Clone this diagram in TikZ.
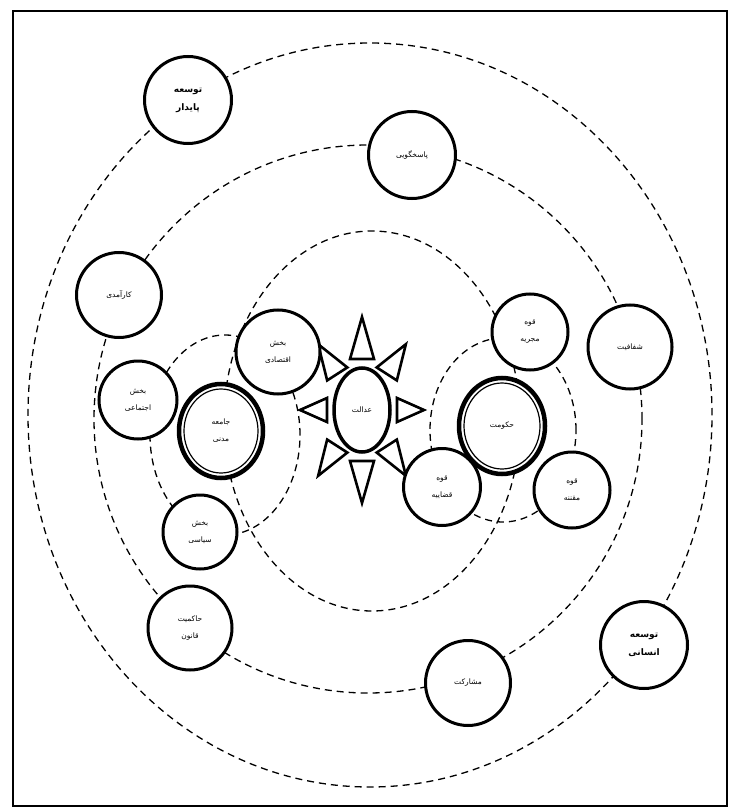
\documentclass[tikz,border=0pt]{standalone}
\usepackage{fontspec}
\newfontfamily\arabicfont[Script=Arabic]{DejaVu Sans}
\TeXXeTstate=1
\usetikzlibrary{calc,shapes.geometric}
\newcommand{\fa}[1]{{\arabicfont\beginR #1\endR}}
\begin{document}
\begin{tikzpicture}[x=1pt,y=-1pt,
  orbit/.style={draw, line width=1.3pt, dash pattern=on 7pt off 5pt},
  item/.style={circle, draw, line width=3pt, fill=white, inner sep=0pt, align=center,
    font=\fontsize{7.5}{17}\selectfont},
  big/.style={item, font=\fontsize{9}{18}\selectfont\bfseries},
  dbl/.style={ellipse, draw, line width=4.5pt, fill=white, inner sep=0pt, align=center,
    font=\fontsize{7.5}{17}\selectfont},
  ray/.style={draw, line width=2.6pt, fill=white}
]
\useasboundingbox (0,0) rectangle (734,810);
\fill[white] (0,0) rectangle (734,810);
\draw[line width=2.5pt] (13,11) rectangle (727,806);

% orbits
\draw[orbit] (370,415) ellipse [x radius=342pt, y radius=372pt];
\draw[orbit] (368,419) ellipse [x radius=274pt, y radius=274pt];
\draw[orbit] (372,421) ellipse [x radius=148pt, y radius=190pt];
\draw[orbit] (225,435) ellipse [x radius=75pt, y radius=100pt];
\draw[orbit] (503,430) ellipse [x radius=73pt, y radius=92pt];

% sun
\coordinate (sun) at (362,410);
\foreach \a in {0,45,...,315} {
  \path (sun) ++({35*cos(\a)},{51*sin(\a)}) coordinate (B);
  \path (sun) ++({62*cos(\a)},{93*sin(\a)}) coordinate (T);
  \draw[ray] (T) -- ($(B)!12pt!90:(T)$) -- ($(B)!12pt!-90:(T)$) -- cycle;
}
\node[ellipse, draw, line width=3.5pt, fill=white, minimum width=56pt, minimum height=84pt,
  inner sep=0pt, font=\fontsize{7.5}{15}\selectfont] (ad) at (sun) {\fa{عدالت}};

% nodes
\node[big, minimum size=87pt] (tp) at (188,100) {\fa{توسعه}\\\fa{پایدار}};
\node[item, minimum size=87pt] (pg) at (412,155) {\fa{پاسخگویی}};
\node[item, minimum size=85pt] (ka) at (119,295) {\fa{کارآمدی}};
\node[item, minimum size=78pt] (ej) at (138,400) {\fa{بخش}\\\fa{اجتماعی}};
\node[item, minimum size=84pt] (eq) at (278,352) {\fa{بخش}\\\fa{اقتصادی}};
\node[item, minimum size=74pt] (sy) at (200,532) {\fa{بخش}\\\fa{سیاسی}};
\node[item, minimum size=84pt] (hq) at (190,628) {\fa{حاکمیت}\\\fa{قانون}};
\node[item, minimum size=85pt] (ms) at (468,683) {\fa{مشارکت}};
\node[big, minimum size=87pt] (ti) at (644,645) {\fa{توسعه}\\\fa{انسانی}};
\node[item, minimum size=84pt] (sh) at (630,347) {\fa{شفافیت}};
\node[item, minimum size=76pt] (mj) at (530,332) {\fa{قوه}\\\fa{مجریه}};
\node[item, minimum size=77pt] (qz) at (442,487) {\fa{قوه}\\\fa{قضاییه}};
\node[item, minimum size=76pt] (mq) at (572,490) {\fa{قوه}\\\fa{مقننه}};

\node[dbl, minimum width=84pt, minimum height=94pt] (jm) at (221,431) {\fa{جامعه}\\\fa{مدنی}};
\draw[line width=1.2pt] (jm.center) ellipse [x radius=37pt, y radius=42pt];
\node[dbl, minimum width=86pt, minimum height=96pt] (hk) at (502,426) {\fa{حکومت}};
\draw[line width=1.2pt] (hk.center) ellipse [x radius=38pt, y radius=43pt];
\end{tikzpicture}
\end{document}
